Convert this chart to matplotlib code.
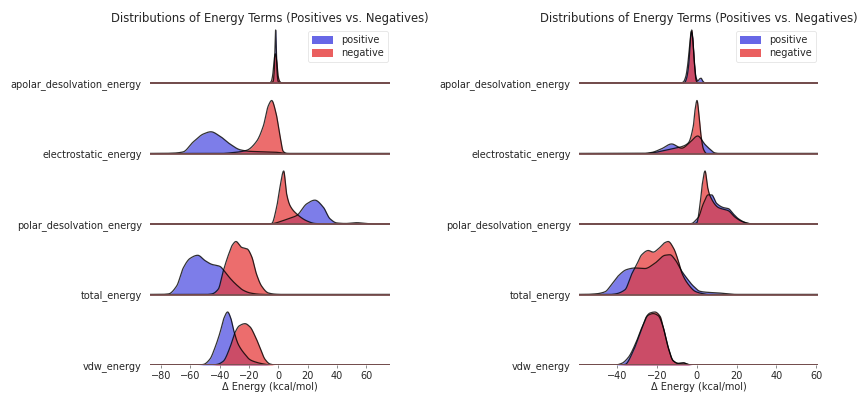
import numpy as np
import matplotlib
matplotlib.use("Agg")
import matplotlib.pyplot as plt
from matplotlib.patches import Patch

# ---------------- data ----------------
terms = ["apolar_desolvation_energy", "electrostatic_energy",
         "polar_desolvation_energy", "total_energy", "vdw_energy"]
class_labels = ["positive", "negative"]
title_text = "Distributions of Energy Terms (Positives vs. Negatives)"
xlabel_text = "\u0394 Energy (kcal/mol)"

left_xlim = (-87.6, 76.3)
right_xlim = (-59.1, 60.9)
left_xticks = [-80, -60, -40, -20, 0, 20, 40, 60]
right_xticks = [-40, -20, 0, 20, 40, 60]

# relative density knots (energy, height relative to row maximum)
left_pos = {
    "apolar_desolvation_energy": ([-5, -3.5, -2.8, -2.3, -1.8, -1.3, -0.8, -0.1, 1.0],
                                  [0, 0.03, 0.2, 0.6, 1.0, 0.6, 0.2, 0.03, 0]),
    "electrostatic_energy": ([-80, -72, -65, -58, -51, -46, -40, -33, -26, -19, -12, -6, 0, 4, 8],
                             [0, 0.005, 0.03, 0.22, 0.37, 0.41, 0.33, 0.18, 0.07, 0.04, 0.035, 0.03, 0.02, 0.005, 0]),
    "polar_desolvation_energy": ([-8, -3.4, 2.8, 8, 12.6, 19.4, 25, 30.7, 35.3, 40, 46, 53.6, 60, 66],
                                 [0, 0.01, 0.06, 0.11, 0.16, 0.38, 0.45, 0.32, 0.1, 0.02, 0.01, 0.025, 0.01, 0]),
    "total_energy": ([-80, -75, -69.4, -64.9, -60.3, -55, -50, -45.5, -39.8, -37, -33, -28.4, -23.9, -19.3, -13, -8],
                     [0, 0.01, 0.16, 0.5, 0.68, 0.74, 0.64, 0.57, 0.53, 0.45, 0.31, 0.18, 0.08, 0.03, 0.005, 0]),
    "vdw_energy": ([-56, -51.2, -46.7, -43.2, -39.8, -37, -34.6, -32.5, -30.3, -27.3, -22.7, -19.3, -14.8, -10.2, -5],
                   [0, 0.01, 0.11, 0.33, 0.61, 0.89, 1.0, 0.89, 0.64, 0.39, 0.2, 0.1, 0.05, 0.02, 0]),
}
left_neg = {
    "apolar_desolvation_energy": ([-6, -4.8, -3.8, -3.0, -2.0, -1.0, -0.2, 1.0, 2.5],
                                  [0, 0.03, 0.15, 0.4, 0.55, 0.4, 0.15, 0.03, 0]),
    "electrostatic_energy": ([-40, -30, -21.6, -14.8, -10.2, -6.8, -4.5, -1.6, 1.2, 3.4, 6],
                             [0, 0.02, 0.06, 0.23, 0.52, 0.9, 1.0, 0.77, 0.33, 0.04, 0]),
    "polar_desolvation_energy": ([-8, -4.5, -1.1, 1.2, 3.7, 5.7, 8, 12.6, 19.4, 25, 32],
                                 [0, 0.01, 0.32, 0.7, 1.0, 0.57, 0.35, 0.19, 0.06, 0.01, 0]),
    "total_energy": ([-50, -45.5, -41, -37.6, -34, -31.2, -28.9, -25, -21.2, -18.2, -14.8, -11.4, -6.8, -2, 2],
                     [0, 0.01, 0.1, 0.44, 0.75, 0.94, 1.0, 0.89, 0.86, 0.72, 0.38, 0.16, 0.03, 0.005, 0]),
    "vdw_energy": ([-46, -42, -37.6, -33, -29.6, -26.6, -22.7, -19.3, -15.9, -12.5, -9.1, -5.7, -2],
                   [0, 0.01, 0.07, 0.33, 0.61, 0.74, 0.78, 0.72, 0.55, 0.33, 0.11, 0.02, 0]),
}
right_pos = {
    "apolar_desolvation_energy": ([-8, -6.7, -5.5, -4.5, -3.5, -2.7, -2, -1.2, -0.3, 0.6, 1.5, 2.2, 3, 4.2],
                                  [0, 0.02, 0.12, 0.35, 0.75, 0.97, 0.85, 0.4, 0.1, 0.04, 0.08, 0.09, 0.04, 0]),
    "electrostatic_energy": ([-27, -22.6, -17.6, -12.6, -7.5, -3.4, 0.5, 4.2, 6.7, 9.2, 11],
                             [0, 0.02, 0.09, 0.18, 0.1, 0.21, 0.33, 0.17, 0.08, 0.01, 0]),
    "polar_desolvation_energy": ([-5, -2.5, 0, 0.8, 3.3, 5.8, 7.5, 10, 13.4, 15.9, 18.4, 20.9, 24.3, 28],
                                 [0, 0.01, 0.09, 0.12, 0.38, 0.55, 0.55, 0.39, 0.31, 0.29, 0.19, 0.1, 0.03, 0]),
    "total_energy": ([-56, -51.1, -46.1, -42.7, -39.4, -35.2, -31, -26, -21, -15.9, -13.4, -10.9, -7.5, -5, -1.7, 1.7, 5.8, 10.9, 15.9, 20],
                     [0, 0.01, 0.05, 0.19, 0.35, 0.47, 0.5, 0.49, 0.59, 0.74, 0.75, 0.66, 0.44, 0.31, 0.16, 0.06, 0.04, 0.03, 0.01, 0]),
    "vdw_energy": ([-41, -37.7, -34.4, -30.2, -27.6, -24.3, -21.8, -19.3, -16.8, -14.3, -11.8, -9.2, -6.7, -4.2, -2],
                   [0, 0.03, 0.14, 0.45, 0.7, 0.94, 0.97, 0.93, 0.71, 0.33, 0.08, 0.03, 0.04, 0.01, 0]),
}
right_neg = {
    "apolar_desolvation_energy": ([-7, -6, -5, -4, -3.2, -2.5, -1.8, -1, -0.3, 0.7],
                                  [0, 0.01, 0.1, 0.35, 0.8, 1.0, 0.75, 0.3, 0.05, 0]),
    "electrostatic_energy": ([-26, -21, -15.9, -10.9, -7.5, -4.2, -1.7, -0.8, 0.15, 1.2, 2.2, 3.4, 5],
                             [0, 0.02, 0.06, 0.1, 0.13, 0.2, 0.52, 0.83, 1.0, 0.71, 0.33, 0.08, 0]),
    "polar_desolvation_energy": ([-3, 0, 1.7, 2.8, 4.2, 5.5, 6.7, 10.9, 15.9, 19.2, 22.6, 26, 30],
                                 [0, 0.02, 0.38, 0.75, 1.0, 0.69, 0.53, 0.31, 0.25, 0.13, 0.05, 0.01, 0]),
    "total_energy": ([-44, -41, -36, -32.7, -30.2, -27.6, -24.3, -21.8, -19.3, -15.9, -14.3, -11.7, -9.2, -7.5, -4.2, -0.8, 2.5, 6],
                     [0, 0.01, 0.09, 0.38, 0.56, 0.75, 0.83, 0.8, 0.86, 0.98, 1.0, 0.88, 0.63, 0.41, 0.19, 0.06, 0.02, 0]),
    "vdw_energy": ([-40, -36, -31.9, -29.3, -26.8, -25.1, -23.5, -21, -18.4, -16.8, -14.3, -11.8, -9.2, -6.7, -4.2, -2],
                   [0, 0.01, 0.26, 0.51, 0.77, 0.92, 0.98, 1.0, 0.92, 0.71, 0.33, 0.08, 0.03, 0.04, 0.01, 0]),
}

# ---------------- styling ----------------
POS_COLOR = "#4646e1"
NEG_COLOR = "#e63c3c"
POS_ALPHA = 0.7
NEG_ALPHA = 0.75
ROW_STEP = 70.5
ROW_HEIGHT = 53.0
TEXT_COLOR = "#262626"
FS = 7.0


def pchip(xk, yk, xs):
    """Shape-preserving cubic drawing of the knot list."""
    x = np.asarray(xk, float)
    y = np.asarray(yk, float)
    h = np.diff(x)
    d = np.diff(y) / h
    m = np.zeros_like(y)
    for k in range(1, len(x) - 1):
        if d[k - 1] * d[k] > 0:
            w1 = 2 * h[k] + h[k - 1]
            w2 = h[k] + 2 * h[k - 1]
            m[k] = (w1 + w2) / (w1 / d[k - 1] + w2 / d[k])
    idx = np.clip(np.searchsorted(x, xs) - 1, 0, len(x) - 2)
    t = (xs - x[idx]) / h[idx]
    h00 = 2 * t**3 - 3 * t**2 + 1
    h10 = t**3 - 2 * t**2 + t
    h01 = -2 * t**3 + 3 * t**2
    h11 = t**3 - t**2
    ys = h00 * y[idx] + h10 * h[idx] * m[idx] + h01 * y[idx + 1] + h11 * h[idx] * m[idx + 1]
    ys[(xs < x[0]) | (xs > x[-1])] = 0
    return np.clip(ys, 0, None)


def draw_panel(ax, pos, neg, xlim, xticks):
    n = len(terms)
    xs = np.linspace(xlim[0], xlim[1], 3000)
    baselines = []
    for i, term in enumerate(terms):
        base = (n - 1 - i) * ROW_STEP
        baselines.append(base)
        for data, col, al in ((pos, POS_COLOR, POS_ALPHA), (neg, NEG_COLOR, NEG_ALPHA)):
            xk, hk = data[term]
            ys = base + ROW_HEIGHT * pchip(xk, hk, xs)
            ax.fill_between(xs, base, ys, color=col, alpha=al, lw=0, zorder=2 + i)
            ax.plot(xs, ys, color="black", lw=0.9, alpha=0.8, zorder=2.5 + i)
        ax.plot(list(xlim), [base, base], color="#7a5050", lw=1.3, zorder=3 + i,
                solid_capstyle="butt")
    ax.set_xlim(*xlim)
    ax.set_ylim(0, (n - 1) * ROW_STEP + ROW_HEIGHT + 1)
    ax.set_yticks(baselines)
    ax.set_yticklabels(terms, color=TEXT_COLOR, fontsize=FS)
    ax.tick_params(axis="y", length=0, pad=6)
    ax.set_xticks(xticks)
    ax.set_xticklabels([("\u2212%d" % -v) if v < 0 else str(v) for v in xticks],
                       color=TEXT_COLOR, fontsize=FS)
    ax.tick_params(axis="x", length=2.5, width=0.6, color="#777777", pad=2)
    for s in ax.spines.values():
        s.set_visible(False)
    ax.set_xlabel(xlabel_text, fontsize=FS, color=TEXT_COLOR, labelpad=0.5)
    ax.set_title(title_text, fontsize=8.4, color=TEXT_COLOR, pad=5)
    handles = [Patch(facecolor=POS_COLOR, alpha=0.82, edgecolor="none", label=class_labels[0]),
               Patch(facecolor=NEG_COLOR, alpha=0.82, edgecolor="none", label=class_labels[1])]
    leg = ax.legend(handles=handles, loc="upper right", fontsize=FS, frameon=True,
                    borderaxespad=0.25, handlelength=2.2, handleheight=0.9,
                    borderpad=0.4, labelspacing=0.3, handletextpad=0.8)
    leg.get_frame().set_edgecolor("#dddddd")
    leg.get_frame().set_linewidth(0.6)
    leg.set_zorder(20)
    for t in leg.get_texts():
        t.set_color(TEXT_COLOR)


fig = plt.figure(figsize=(8.59, 3.94), dpi=100)
ax_l = fig.add_axes([150 / 859, 1 - 365 / 394, 240 / 859, 336 / 394])
ax_r = fig.add_axes([579 / 859, 1 - 365 / 394, 239 / 859, 336 / 394])
draw_panel(ax_l, left_pos, left_neg, left_xlim, left_xticks)
draw_panel(ax_r, right_pos, right_neg, right_xlim, right_xticks)

fig.savefig("out.png", dpi=100)
